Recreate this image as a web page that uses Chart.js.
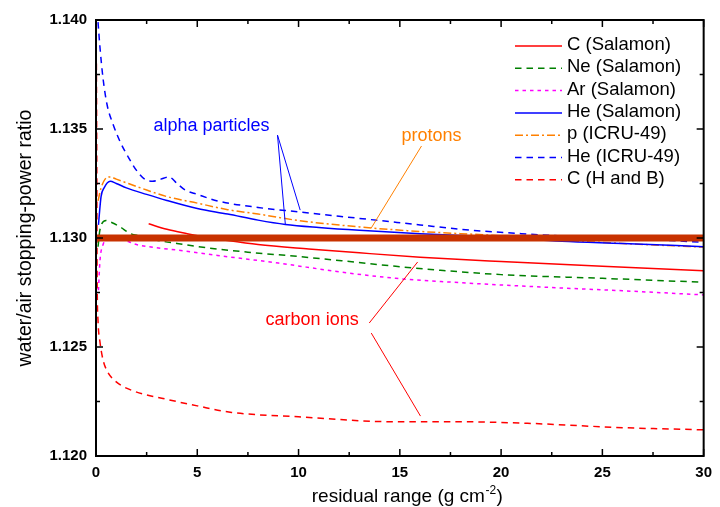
<!DOCTYPE html>
<html>
<head>
<meta charset="utf-8">
<script src="https://cdn.jsdelivr.net/npm/chart.js@4.4.0/dist/chart.umd.min.js"></script>
<style>
  html, body { margin: 0; padding: 0; background: #fff; }
  #wrap { width: 720px; height: 507px; }
</style>
</head>
<body>
<div id="wrap"><canvas id="chart" width="720" height="507"></canvas></div>
<script>
// residual range (g cm^-2) and water/air stopping-power ratio
const cSalX = [2.6, 3.5, 4.5, 5.5, 6.5, 8, 10.5, 13, 16, 20, 25, 30];
const cSalY = [1.13065, 1.13040, 1.13020, 1.13002, 1.12988, 1.12970, 1.12950, 1.12932, 1.12912, 1.12892, 1.12870, 1.12850];

const neSalX = [0.1, 0.2, 0.5, 0.8, 1.2, 1.7, 2.2, 3, 4, 5.5, 7.5, 10, 12.2, 14.8, 17, 20, 25, 30];
const neSalY = [1.1296, 1.1304, 1.1308, 1.1307, 1.1305, 1.1302, 1.13010, 1.12990, 1.12975, 1.12955, 1.12935, 1.12915, 1.12895, 1.1287, 1.12852, 1.12832, 1.12815, 1.12797];

const arSalX = [0.12, 0.2, 0.35, 0.6, 1, 2, 3, 4, 6, 9, 12, 14.8, 18, 22, 26, 30];
const arSalY = [1.1276, 1.1290, 1.1297, 1.1300, 1.1300, 1.1297, 1.12955, 1.12945, 1.1292, 1.12885, 1.12845, 1.12815, 1.12795, 1.12775, 1.12758, 1.12739];

const heSalX = [0.12, 0.25, 0.4, 0.7, 1, 1.5, 2.5, 3.5, 5, 6.5, 8, 9.35, 11, 13, 16, 20, 23, 26, 30];
const heSalY = [1.1306, 1.1319, 1.1323, 1.1326, 1.1325, 1.1323, 1.1320, 1.13172, 1.13135, 1.13110, 1.13082, 1.13062, 1.13048, 1.13035, 1.13020, 1.13003, 1.12985, 1.12975, 1.1296];

const pIcruX = [0.1, 0.25, 0.45, 0.7, 1, 1.6, 2.5, 3.5, 5, 6.5, 8, 10, 13.6, 16, 20, 23, 26, 30];
const pIcruY = [1.1317, 1.1323, 1.1327, 1.1328, 1.1327, 1.1325, 1.1322, 1.1319, 1.1316, 1.1313, 1.1311, 1.1308, 1.13046, 1.1303, 1.1301, 1.1299, 1.12975, 1.12958];

const heIcruX = [0.1, 0.2, 0.35, 0.55, 0.85, 1.2, 1.6, 2.0, 2.4, 2.8, 3.2, 3.6, 4.0, 4.4, 5, 6, 8, 10, 12, 14, 16, 18, 21, 25, 28, 30];
const heIcruY = [1.1399, 1.1387, 1.1373, 1.1361, 1.1352, 1.1344, 1.1337, 1.1331, 1.1327, 1.1326, 1.1327, 1.1328, 1.1325, 1.1322, 1.1320, 1.1317, 1.1314, 1.1312, 1.1310, 1.1308, 1.1306, 1.1304, 1.1302, 1.1300, 1.1299, 1.1298];

const cHBX = [0.02, 0.04, 0.05, 0.1, 0.2, 0.35, 0.55, 1.0, 1.8, 3.5, 5, 6.7, 10, 14.8, 18, 21.3, 26, 30];
const cHBY = [1.1380, 1.1330, 1.1289, 1.1262, 1.1252, 1.1244, 1.1239, 1.1234, 1.1230, 1.1226, 1.1223, 1.1220, 1.1218, 1.12157, 1.12157, 1.1215, 1.1213, 1.1212];

const refX = [0, 30];
const refY = [1.130, 1.130];

const xTicks = [0, 5, 10, 15, 20, 25, 30];
const yTicks = [1.120, 1.125, 1.130, 1.135, 1.140];

// annotation texts and pointer lines, in data units
const noteTexts = [
    {text: 'alpha particles', x: 5.70, y: 1.13514, color: '#0000ff'},
    {text: 'protons', x: 16.56, y: 1.13468, color: '#ff8000'},
    {text: 'carbon ions', x: 10.67, y: 1.12624, color: '#ff0000'}
];
const noteLines = [
    {x: [8.96, 9.35], y: [1.13472, 1.13060], color: '#0000ff'},
    {x: [8.96, 10.08], y: [1.13472, 1.13128], color: '#0000ff'},
    {x: [16.07, 13.59], y: [1.13422, 1.13046], color: '#ff8000'},
    {x: [13.49, 15.88], y: [1.12610, 1.12890], color: '#ff0000'},
    {x: [13.59, 16.02], y: [1.12564, 1.12183], color: '#ff0000'}
];

const pts = (xs, ys) => xs.map((x, i) => ({x: x, y: ys[i]}));
const $font = "'Liberation Sans', Arial, sans-serif";

function series(label, xs, ys, color, dash){
    return {
        label: label,
        data: pts(xs, ys),
        borderColor: color,
        borderWidth: 1.5,
        borderDash: dash,
        pointRadius: 0,
        fill: false,
        cubicInterpolationMode: 'monotone',
        order: 1
    };
}

const datasets = [
    series('C (Salamon)', cSalX, cSalY, '#ff0000', []),
    series('Ne (Salamon)', neSalX, neSalY, '#008000', [6.5, 5]),
    series('Ar (Salamon)', arSalX, arSalY, '#ff00ff', [3.5, 4]),
    series('He (Salamon)', heSalX, heSalY, '#0000ff', []),
    series('p (ICRU-49)', pIcruX, pIcruY, '#ff8000', [8, 3, 2, 3]),
    series('He (ICRU-49)', heIcruX, heIcruY, '#0000ff', [6.5, 5]),
    series('C (H and B)', cHBX, cHBY, '#ff0000', [6.5, 5]),
    {
        label: 'ref',
        data: pts(refX, refY),
        borderColor: '#c83200',
        borderWidth: 7,
        pointRadius: 0,
        borderCapStyle: 'butt',
        order: 0
    }
];

const framePlugin = {
    id: 'frame',
    afterDraw(chart){
        const ctx = chart.ctx;
        const a = chart.chartArea;
        const sx = chart.scales.x, sy = chart.scales.y;
        ctx.save();

        // annotations
        ctx.lineWidth = 1;
        noteLines.forEach(l => {
            ctx.strokeStyle = l.color;
            ctx.beginPath();
            ctx.moveTo(sx.getPixelForValue(l.x[0]), sy.getPixelForValue(l.y[0]));
            ctx.lineTo(sx.getPixelForValue(l.x[1]), sy.getPixelForValue(l.y[1]));
            ctx.stroke();
        });
        ctx.font = '18px ' + $font;
        ctx.textAlign = 'center';
        ctx.textBaseline = 'middle';
        noteTexts.forEach(t => {
            ctx.fillStyle = t.color;
            ctx.fillText(t.text, sx.getPixelForValue(t.x), sy.getPixelForValue(t.y));
        });

        // legend
        const ds = chart.data.datasets.filter(d => d.label !== 'ref');
        ds.forEach((d, i) => {
            const yy = 46 + i * 22.3;
            ctx.strokeStyle = d.borderColor;
            ctx.lineWidth = 1.5;
            ctx.setLineDash(d.borderDash || []);
            ctx.beginPath();
            ctx.moveTo(515, yy);
            ctx.lineTo(562, yy);
            ctx.stroke();
            ctx.setLineDash([]);
            ctx.fillStyle = '#000';
            ctx.textAlign = 'left';
            ctx.textBaseline = 'middle';
            ctx.font = '18.5px ' + $font;
            ctx.fillText(d.label, 567, yy - 1);
        });

        // box and inward ticks
        ctx.strokeStyle = '#000';
        ctx.lineWidth = 2;
        ctx.strokeRect(a.left, a.top, a.right - a.left, a.bottom - a.top);
        ctx.lineWidth = 1.5;
        ctx.beginPath();
        xTicks.forEach((v, i) => {
            const px = sx.getPixelForValue(v);
            ctx.moveTo(px, a.bottom); ctx.lineTo(px, a.bottom - 7);
            ctx.moveTo(px, a.top); ctx.lineTo(px, a.top + 7);
            if (i < xTicks.length - 1){
                const mx = sx.getPixelForValue((v + xTicks[i + 1]) / 2);
                ctx.moveTo(mx, a.bottom); ctx.lineTo(mx, a.bottom - 4);
                ctx.moveTo(mx, a.top); ctx.lineTo(mx, a.top + 4);
            }
        });
        yTicks.forEach((v, i) => {
            const py = sy.getPixelForValue(v);
            ctx.moveTo(a.left, py); ctx.lineTo(a.left + 7, py);
            ctx.moveTo(a.right, py); ctx.lineTo(a.right - 7, py);
            if (i < yTicks.length - 1){
                const my = sy.getPixelForValue((v + yTicks[i + 1]) / 2);
                ctx.moveTo(a.left, my); ctx.lineTo(a.left + 4, my);
                ctx.moveTo(a.right, my); ctx.lineTo(a.right - 4, my);
            }
        });
        ctx.stroke();

        // axis titles
        ctx.fillStyle = '#000';
        ctx.font = '19px ' + $font;
        ctx.textBaseline = 'alphabetic';
        const main = 'residual range (g cm', sup = '-2', tail = ')';
        const w1 = ctx.measureText(main).width;
        const w3 = ctx.measureText(tail).width;
        ctx.font = '12px ' + $font;
        const w2 = ctx.measureText(sup).width;
        let x0 = (a.left + a.right) / 2 + 7 - (w1 + w2 + w3) / 2;
        ctx.textAlign = 'left';
        ctx.font = '19px ' + $font;
        ctx.fillText(main, x0, 502);
        ctx.font = '12px ' + $font;
        ctx.fillText(sup, x0 + w1 + 0.5, 494);
        ctx.font = '19px ' + $font;
        ctx.fillText(tail, x0 + w1 + w2 + 1, 502);

        ctx.translate(31, (a.top + a.bottom) / 2);
        ctx.rotate(-Math.PI / 2);
        ctx.textAlign = 'center';
        ctx.font = '19.5px ' + $font;
        ctx.fillText('water/air stopping-power ratio', 0, 0);
        ctx.restore();
    }
};

new Chart(document.getElementById('chart'), {
    type: 'line',
    data: {datasets: datasets},
    options: {
        responsive: false,
        animation: false,
        events: [],
        layout: {padding: {top: 20, right: 8, left: 0, bottom: 0}},
        plugins: {legend: {display: false}, tooltip: {enabled: false}},
        scales: {
            x: {
                type: 'linear',
                min: 0,
                max: 30,
                afterFit: s => { s.height = 51; },
                afterBuildTicks: s => { s.ticks = xTicks.map(v => ({value: v})); },
                grid: {display: false, drawTicks: false},
                border: {display: false},
                ticks: {
                    padding: 8,
                    color: '#000',
                    font: {family: $font, size: 15, weight: 'bold'},
                    callback: v => String(v)
                }
            },
            y: {
                type: 'linear',
                min: 1.120,
                max: 1.140,
                afterFit: s => { s.width = 96; },
                afterBuildTicks: s => { s.ticks = yTicks.map(v => ({value: v})); },
                grid: {display: false, drawTicks: false},
                border: {display: false},
                ticks: {
                    padding: 9,
                    color: '#000',
                    font: {family: $font, size: 15, weight: 'bold'},
                    callback: v => v.toFixed(3)
                }
            }
        }
    },
    plugins: [framePlugin]
});
</script>
</body>
</html>
